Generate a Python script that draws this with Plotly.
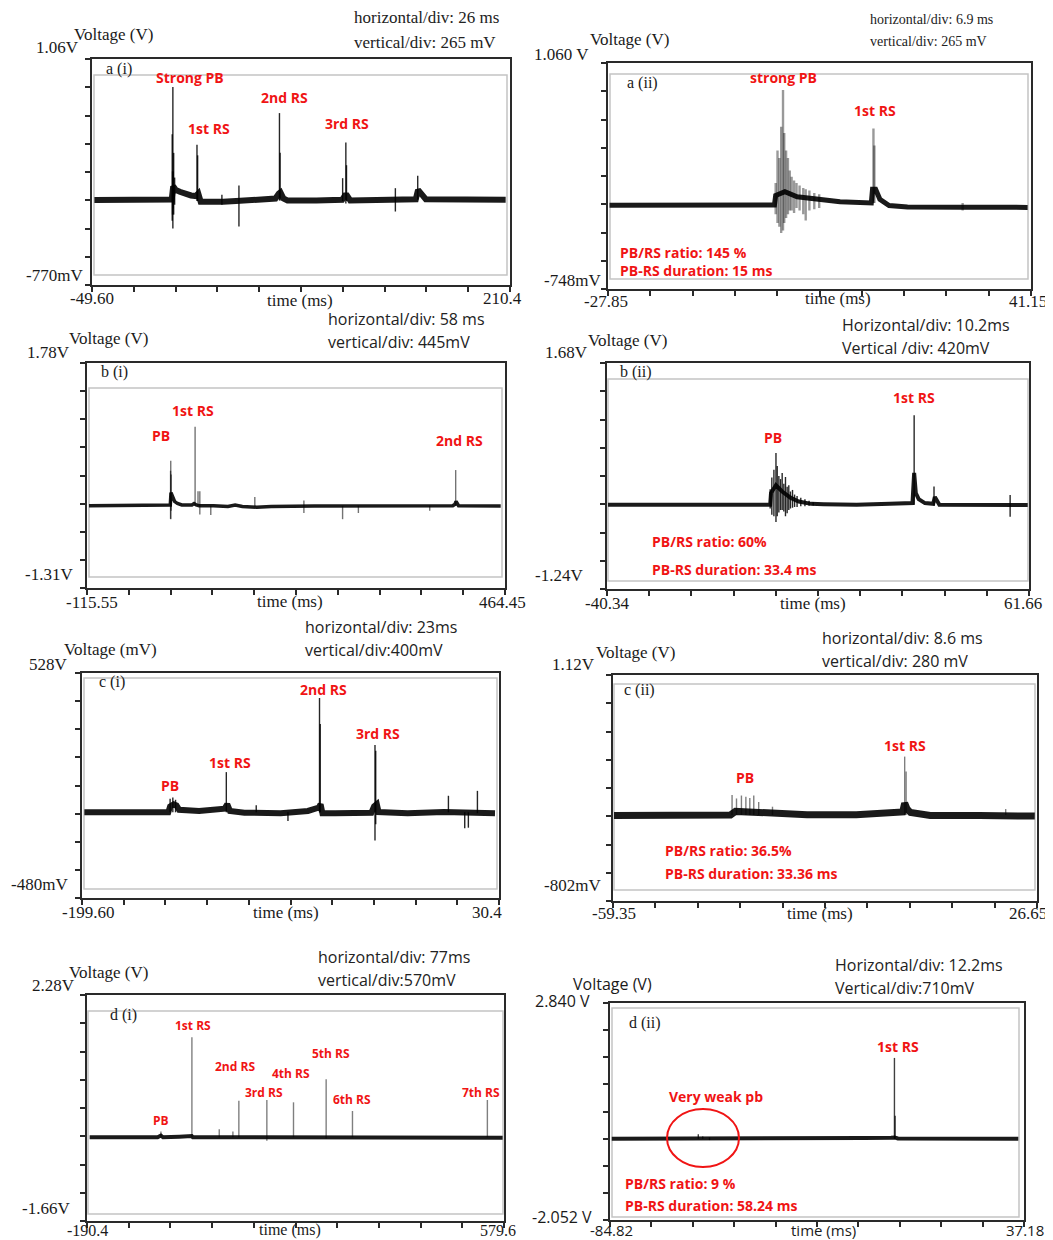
import plotly.graph_objects as go

W, H = 1053, 1240
OFF = 8  # page margin of the browser body (px)

# ---------------- data (time in ms, voltage in V) ----------------
# a(i)
ai_xrange = [-49.60, 210.4]
ai_yrange = [-0.770, 1.06]
ai_t = [-48.1, -1.0, 0.0, 0.9, 2.5, 5.0, 8.0, 12.0, 15.0, 16.5, 18.0, 24.0, 32.0, 40.0, 48.0, 64.5, 66.6, 67.6,
        69.5, 72.0, 90.0, 106.0, 107.8, 109.0, 111.0, 138.0, 151.8, 153.2, 155.5, 158.0, 207.7]
ai_v = [-0.081, -0.081, -0.078, 0.03, 0.0, -0.015, -0.03, -0.045, -0.05, -0.03, -0.095, -0.10, -0.095, -0.09,
        -0.085, -0.07, -0.03, -0.02, -0.07, -0.085, -0.085, -0.08, -0.045, -0.045, -0.085, -0.08, -0.075, 0.0,
        -0.04, -0.075, -0.08]
ai_spk_t = [0.3, 0.5, 0.7, 0.9, 1.2, 1.8, 15.7, 16.1, 31.2, 41.8, 67.0, 67.4, 106.3, 108.3, 108.7, 139.1, 153.0]
ai_spk_lo = [-0.25, -0.20, -0.313, -0.15, -0.2, -0.12, -0.09, -0.09, -0.12, -0.297, -0.085, -0.085, -0.09, -0.11,
             -0.09, -0.175, -0.08]
ai_spk_hi = [0.45, 0.15, 0.833, 0.15, 0.30, 0.10, 0.365, 0.28, -0.04, 0.036, 0.622, 0.30, 0.095, 0.384, 0.2,
             0.014, 0.114]

# a(ii)
aii_xrange = [-27.85, 41.15]
aii_yrange = [-0.748, 1.060]
aii_t = [-27.6, -15.0, -5.0, -0.7, -0.5, 1.0, 3.0, 6.0, 10.0, 15.1, 15.3, 15.8, 16.5, 18.0, 21.0, 30.0, 35.0,
         40.6]
aii_v = [-0.078, -0.08, -0.075, -0.076, 0.0, 0.03, -0.01, -0.03, -0.05, -0.06, 0.05, 0.05, -0.03, -0.08, -0.092,
         -0.093, -0.09, -0.095]
aii_spk_t = [-0.5, -0.2, 0.1, 0.4, 0.7, 0.9, 1.2, 1.5, 1.8, 2.1, 2.5, 2.9, 3.4, 4.0, 4.4, 5.0, 5.8, 6.6, 15.45,
             15.6, 30.0]
aii_spk_lo = [-0.15, -0.22, -0.25, -0.30, -0.28, -0.22, -0.18, -0.15, -0.12, -0.12, -0.14, -0.10, -0.12, -0.15,
              -0.20, -0.12, -0.11, -0.10, -0.06, -0.06, -0.12]
aii_spk_hi = [0.10, 0.36, 0.30, 0.55, 0.844, 0.50, 0.36, 0.30, 0.20, 0.15, 0.12, 0.10, 0.08, 0.06, 0.05, 0.04,
              0.02, 0.01, 0.536, 0.40, -0.06]

# b(i)
bi_xrange = [-115.55, 464.45]
bi_yrange = [-1.31, 1.78]
bi_t = [-112.8, -2.0, 0.0, 1.0, 3.0, 6.0, 10.0, 16.0, 30.0, 33.0, 36.0, 40.0, 60.0, 80.0, 90.0, 100.0, 120.0,
        140.0, 200.0, 300.0, 392.0, 395.0, 396.5, 400.0, 458.5]
bi_v = [-0.18, -0.18, -0.17, 0.0, -0.06, -0.12, -0.15, -0.17, -0.17, -0.15, -0.17, -0.18, -0.18, -0.19, -0.17,
        -0.19, -0.20, -0.19, -0.185, -0.185, -0.18, -0.16, -0.12, -0.18, -0.185]
bi_spk_t = [0.4, 0.65, 1.2, 34.45, 38.5, 41.0, 56.2, 117.3, 185.4, 239.1, 261.0, 360.0, 396.0]
bi_spk_lo = [-0.36, -0.365, -0.25, -0.18, -0.18, -0.30, -0.306, -0.19, -0.28, -0.365, -0.28, -0.25, -0.18]
bi_spk_hi = [0.30, 0.438, 0.25, 0.904, 0.02, 0.02, -0.18, -0.06, -0.11, -0.18, -0.18, -0.18, 0.31]

# b(ii)
bii_xrange = [-40.34, 61.66]
bii_yrange = [-1.24, 1.68]
bii_t = [-40.1, -10.0, -0.9, -0.7, 0.5, 2.0, 4.0, 6.0, 9.0, 12.0, 20.0, 28.0, 33.5, 33.9, 34.3, 35.0, 36.5,
         38.5, 38.9, 40.0, 55.0, 61.35]
bii_v = [-0.153, -0.153, -0.153, 0.0, 0.10, 0.02, -0.06, -0.11, -0.14, -0.145, -0.15, -0.14, -0.13, 0.26,
         0.0, -0.08, -0.13, -0.14, -0.05, -0.15, -0.15, -0.155]
bii_spk_t = [-0.9, -0.5, 0.0, 0.5, 0.8, 1.2, 1.6, 2.0, 2.4, 2.8, 3.2, 3.6, 4.0, 4.5, 5.0, 5.6, 6.5, 7.5, 8.5, 9.5,
             33.9, 38.7, 57.1]
bii_spk_lo = [-0.20, -0.28, -0.30, -0.374, -0.30, -0.25, -0.22, -0.22, -0.24, -0.30, -0.26, -0.22, -0.20, -0.19,
              -0.18, -0.18, -0.17, -0.17, -0.165, -0.16, -0.15, -0.16, -0.305]
bii_spk_hi = [0.05, 0.20, 0.30, 0.517, 0.35, 0.22, 0.18, 0.26, 0.12, 0.207, 0.08, 0.10, 0.02, 0.04, -0.02, -0.04,
              -0.06, -0.08, -0.10, -0.12, 1.006, 0.083, -0.025]

# c(i)
ci_xrange = [-199.60, 30.4]
ci_yrange = [-0.480, 0.528]
ci_t = [-198.3, -152.0, -151.0, -149.0, -147.5, -146.0, -135.0, -121.0, -119.5, -118.0, -110.0, -90.0, -75.0,
        -69.0, -68.0, -67.0, -60.0, -40.0, -38.5, -37.0, -36.0, -20.0, 0.0, 15.0, 28.2]
ci_v = [-0.096, -0.096, -0.07, -0.06, -0.065, -0.085, -0.09, -0.08, -0.06, -0.09, -0.098, -0.10, -0.09, -0.075,
        -0.06, -0.10, -0.10, -0.098, -0.07, -0.06, -0.095, -0.10, -0.095, -0.10, -0.10]
ci_spk_t = [-151.0, -149.5, -148.0, -120.0, -103.5, -86.0, -68.6, -68.2, -38.0, -37.6, 2.5, 11.5, 13.5, 18.5]
ci_spk_lo = [-0.096, -0.096, -0.096, -0.096, -0.096, -0.135, -0.096, -0.096, -0.222, -0.15, -0.096, -0.168,
             -0.165, -0.10]
ci_spk_hi = [-0.035, -0.030, -0.040, 0.084, -0.065, -0.096, 0.416, 0.30, 0.205, 0.18, -0.022, -0.096, -0.096, 0.0]

# c(ii)
cii_xrange = [-59.35, 26.65]
cii_yrange = [-0.802, 1.12]
cii_t = [-59.15, -40.0, -35.5, -34.5, -31.0, -28.0, -26.0, -20.0, -10.0, -3.0, -0.6, -0.19, 0.3, 1.0, 2.5, 5.0,
         15.0, 26.2]
cii_v = [-0.075, -0.072, -0.07, -0.04, -0.045, -0.05, -0.06, -0.068, -0.068, -0.055, -0.045, 0.03, -0.02, -0.05,
         -0.065, -0.075, -0.075, -0.08]
cii_spk_t = [-35.2, -34.3, -33.3, -32.4, -31.6, -30.8, -29.8, -27.0, -0.19, 0.1, 20.3]
cii_spk_lo = [-0.07, -0.07, -0.07, -0.07, -0.07, -0.07, -0.07, -0.07, -0.07, -0.07, -0.07]
cii_spk_hi = [0.10, 0.07, 0.095, 0.085, 0.075, 0.095, 0.04, 0.0, 0.426, 0.30, -0.02]

# d(i)
di_xrange = [-190.4, 579.6]
di_yrange = [-1.66, 2.28]
di_t = [-185.5, -60.0, -54.0, -50.0, -20.0, 0.0, 3.0, 5.0, 100.0, 200.0, 300.0, 400.0, 577.1]
di_v = [-0.20, -0.20, -0.17, -0.20, -0.19, -0.18, -0.18, -0.20, -0.20, -0.20, -0.195, -0.20, -0.21]
di_spk_t = [-53.9, 53.8, 79.0, 3.3, 90.0, 141.7, 190.9, 251.2, 299.8, 548.9]
di_spk_lo = [-0.20, -0.20, -0.20, -0.20, -0.20, -0.26, -0.20, -0.22, -0.20, -0.20]
di_spk_hi = [-0.10, -0.06, -0.10, 1.542, 0.438, 0.45, 0.409, 0.81, 0.258, 0.45]

# d(ii)
dii_xrange = [-84.82, 37.18]
dii_yrange = [-2.052, 2.84]
dii_t = [-84.3, -60.0, -58.8, -55.0, -40.0, -20.0, -10.0, -2.0, -1.0, 0.0, 10.0, 35.5]
dii_v = [-0.22, -0.22, -0.20, -0.22, -0.22, -0.215, -0.205, -0.195, -0.19, -0.215, -0.22, -0.22]
dii_spk_t = [-58.8, -57.5, -55.5, -1.0, -0.8]
dii_spk_lo = [-0.22, -0.22, -0.25, -0.22, -0.22]
dii_spk_hi = [-0.12, -0.17, -0.19, 1.602, 0.3]

# ---------------- layout (pixel geometry) ----------------
SERIF = "Liberation Serif, Times New Roman, serif"
SANS = "Open Sans, Liberation Sans, sans-serif"
RED = "#f01414"
INK = "#1a1a1a"
SS = 17   # serif label size
NS = 16   # sans label size

panels = [
    dict(name="a (i)", t=ai_t, v=ai_v, st=ai_spk_t, slo=ai_spk_lo, shi=ai_spk_hi, xr=ai_xrange, yr=ai_yrange,
         frame=(92, 59, 510, 285), inner=(94, 75, 507, 275), band=6, spk="rgba(0,0,0,0.85)", spw=1.4,
         vlab=("Voltage (V)", 72, 35, SERIF), top=("1.06V", 81, 48, "right", SERIF),
         bot=("-770mV", 85, 276, "right", SERIF), x0=("-49.60", 92, 299), x1=("210.4", 502, 299),
         tl=(300, 300), tfont=SERIF, tsize=SS,
         div=("horizontal/div: 26 ms", "vertical/div: 265 mV", 352, 18, 42, SERIF, 17),
         tag=(104, 69),
         red=[("Strong PB", 190, 77), ("1st RS", 209, 128), ("2nd RS", 284, 97), ("3rd RS", 347, 124)],
         redl=[], rsize=14),
    dict(name="a (ii)", t=aii_t, v=aii_v, st=aii_spk_t, slo=aii_spk_lo, shi=aii_spk_hi, xr=aii_xrange,
         yr=aii_yrange, frame=(608, 63, 1031, 289), inner=(610, 74, 1028, 279), band=5, spk="rgba(0,0,0,0.4)",
         spw=2.4,
         vlab=("Voltage (V)", 588, 40, SERIF), top=("1.060 V", 532, 54, "left", SERIF),
         bot=("-748mV", 603, 280, "right", SERIF), x0=("-27.85", 606, 302), x1=("41.15", 1028, 302),
         tl=(838, 298), tfont=SERIF, tsize=SS,
         div=("horizontal/div: 6.9 ms", "vertical/div: 265 mV", 868, 19, 41, SERIF, 14),
         tag=(625, 83),
         red=[("strong PB", 783, 78), ("1st RS", 875, 111)],
         redl=[("PB/RS ratio: 145 %<br>PB-RS duration: 15 ms", 618, 261)], rsize=14),
    dict(name="b (i)", t=bi_t, v=bi_v, st=bi_spk_t, slo=bi_spk_lo, shi=bi_spk_hi, xr=bi_xrange, yr=bi_yrange,
         frame=(87, 363, 505, 588), inner=(89, 388, 502, 577), band=3.5, spk="rgba(0,0,0,0.55)", spw=1.4,
         vlab=("Voltage (V)", 67, 339, SERIF), top=("1.78V", 72, 353, "right", SERIF),
         bot=("-1.31V", 75, 574, "right", SERIF), x0=("-115.55", 92, 602), x1=("464.45", 502, 602),
         tl=(290, 601), tfont=SERIF, tsize=SS,
         div=("horizontal/div: 58 ms", "vertical/div: 445mV", 326, 319, 342, SANS, NS),
         tag=(99, 372),
         red=[("PB", 161, 435), ("1st RS", 193, 410), ("2nd RS", 459, 441)], redl=[], rsize=14),
    dict(name="b (ii)", t=bii_t, v=bii_v, st=bii_spk_t, slo=bii_spk_lo, shi=bii_spk_hi, xr=bii_xrange,
         yr=bii_yrange, frame=(607, 363, 1029, 589), inner=(608, 379, 1028, 581), band=4, spk="rgba(0,0,0,0.85)",
         spw=1.4,
         vlab=("Voltage (V)", 586, 340, SERIF), top=("1.68V", 590, 353, "right", SERIF),
         bot=("-1.24V", 585, 575, "right", SERIF), x0=("-40.34", 607, 603), x1=("61.66", 1023, 603),
         tl=(813, 603), tfont=SERIF, tsize=SS,
         div=("Horizontal/div: 10.2ms", "Vertical /div: 420mV", 840, 325, 348, SANS, NS),
         tag=(618, 372),
         red=[("PB", 773, 437), ("1st RS", 914, 397)],
         redl=[("PB/RS ratio: 60%", 650, 541), ("PB-RS duration: 33.4 ms", 650, 569)], rsize=14),
    dict(name="c (i)", t=ci_t, v=ci_v, st=ci_spk_t, slo=ci_spk_lo, shi=ci_spk_hi, xr=ci_xrange, yr=ci_yrange,
         frame=(82, 673, 499, 898), inner=(84, 678, 497, 889), band=6, spk="rgba(0,0,0,0.85)", spw=1.4,
         vlab=("Voltage (mV)", 62, 649, SERIF), top=("528V", 70, 665, "right", SERIF),
         bot=("-480mV", 70, 884, "right", SERIF), x0=("-199.60", 88, 912), x1=("30.4", 487, 912),
         tl=(286, 912), tfont=SERIF, tsize=SS,
         div=("horizontal/div: 23ms", "vertical/div:400mV", 303, 627, 650, SANS, NS),
         tag=(97, 682),
         red=[("PB", 170, 785), ("1st RS", 230, 762), ("2nd RS", 323, 689), ("3rd RS", 378, 733)], redl=[],
         rsize=14),
    dict(name="c (ii)", t=cii_t, v=cii_v, st=cii_spk_t, slo=cii_spk_lo, shi=cii_spk_hi, xr=cii_xrange,
         yr=cii_yrange, frame=(613, 675, 1037, 901), inner=(614, 684, 1035, 890), band=7, spk="rgba(0,0,0,0.5)",
         spw=1.4,
         vlab=("Voltage (V)", 594, 652, SERIF), top=("1.12V", 597, 665, "right", SERIF),
         bot=("-802mV", 603, 886, "right", SERIF), x0=("-59.35", 614, 914), x1=("26.65", 1028, 914),
         tl=(820, 914), tfont=SERIF, tsize=SS,
         div=("horizontal/div: 8.6 ms", "vertical/div: 280 mV", 820, 638, 661, SANS, NS),
         tag=(622, 690),
         red=[("PB", 745, 777), ("1st RS", 905, 745)],
         redl=[("PB/RS ratio: 36.5%", 663, 850), ("PB-RS duration: 33.36 ms", 663, 873)], rsize=14),
    dict(name="d (i)", t=di_t, v=di_v, st=di_spk_t, slo=di_spk_lo, shi=di_spk_hi, xr=di_xrange, yr=di_yrange,
         frame=(87, 995, 504, 1221), inner=(88, 1011, 503, 1214), band=4, spk="rgba(0,0,0,0.5)", spw=1.4,
         vlab=("Voltage (V)", 67, 972, SERIF), top=("2.28V", 77, 985, "right", SERIF),
         bot=("-1.66V", 72, 1208, "right", SERIF), x0=("-190.4", 87, 1230), x1=("579.6", 498, 1230),
         tl=(290, 1230), tfont=SERIF, tsize=16,
         div=("horizontal/div: 77ms", "vertical/div:570mV", 316, 957, 980, SANS, NS),
         tag=(108, 1015),
         red=[("PB", 161, 1120), ("1st RS", 193, 1025), ("2nd RS", 235, 1066), ("3rd RS", 264, 1092),
              ("4th RS", 291, 1073), ("5th RS", 331, 1053), ("6th RS", 352, 1099), ("7th RS", 481, 1092)],
         redl=[], rsize=12),
    dict(name="d (ii)", t=dii_t, v=dii_v, st=dii_spk_t, slo=dii_spk_lo, shi=dii_spk_hi, xr=dii_xrange,
         yr=dii_yrange, frame=(610, 1003, 1024, 1220), inner=(612, 1008, 1019, 1217), band=4,
         spk="rgba(0,0,0,0.75)", spw=1.4,
         vlab=("Voltage (V)", 571, 984, SANS), top=("2.840 V", 533, 1001, "left", SANS),
         bot=("-2.052 V", 530, 1217, "left", SANS), x0=("-84.82", 611, 1230), x1=("37.18", 1025, 1230),
         tl=(823, 1230), tfont=SANS, tsize=15,
         div=("Horizontal/div: 12.2ms", "Vertical/div:710mV", 833, 965, 988, SANS, NS),
         tag=(627, 1023),
         red=[("1st RS", 898, 1046), ("Very weak pb", 716, 1096)],
         redl=[("PB/RS ratio: 9 %", 623, 1183), ("PB-RS duration: 58.24 ms", 623, 1205)], rsize=14),
]


def px(x):
    return (x - OFF) / W


def py(y):
    return 1 - (y - OFF) / H


fig = go.Figure()
annotations = []
shapes = []
layout_axes = {}


def ann(text, x, y, xanchor="left", font=SERIF, size=16, color=INK, bold=False):
    annotations.append(dict(text=(f"<b>{text}</b>" if bold else text), x=px(x), y=py(y), xref="paper",
                            yref="paper", xanchor=xanchor, yanchor="middle", showarrow=False, align="left",
                            font=dict(family=font, size=size, color=color)))


for i, p in enumerate(panels, start=1):
    xa = "x" if i == 1 else f"x{i}"
    ya = "y" if i == 1 else f"y{i}"
    xkey = "xaxis" if i == 1 else f"xaxis{i}"
    ykey = "yaxis" if i == 1 else f"yaxis{i}"
    fx0, fy0, fx1, fy1 = p["frame"]
    x_lo, x_hi = p["xr"]
    y_lo, y_hi = p["yr"]
    xt = [x_lo + k * (x_hi - x_lo) / 10 for k in range(11)]
    yt = [y_lo + k * (y_hi - y_lo) / 8 for k in range(9)]
    common = dict(showgrid=False, zeroline=False, showline=True, mirror=True, linecolor="#2a2a2a", linewidth=2,
                  ticks="outside", ticklen=5, tickwidth=1.6, tickcolor="#2a2a2a", showticklabels=False,
                  fixedrange=True)
    layout_axes[xkey] = dict(domain=[px(fx0), px(fx1)], range=[x_lo, x_hi], tickvals=xt, anchor=ya, **common)
    layout_axes[ykey] = dict(domain=[py(fy1), py(fy0)], range=[y_lo, y_hi], tickvals=yt, anchor=xa, **common)

    # inner light rectangle
    ix0, iy0, ix1, iy1 = p["inner"]
    shapes.append(dict(type="rect", xref="paper", yref="paper", x0=px(ix0), x1=px(ix1), y0=py(iy1), y1=py(iy0),
                       line=dict(color="#c4c4c4", width=1.5), layer="below"))

    # main trace (thick noisy band)
    fig.add_trace(go.Scatter(x=p["t"], y=p["v"], mode="lines", xaxis=xa, yaxis=ya,
                             line=dict(color=INK, width=p["band"]), hoverinfo="skip", showlegend=False))
    # spikes
    sx, sy = [], []
    for t, lo, hi in zip(p["st"], p["slo"], p["shi"]):
        sx += [t, t, None]
        sy += [lo, hi, None]
    fig.add_trace(go.Scatter(x=sx, y=sy, mode="lines", xaxis=xa, yaxis=ya,
                             line=dict(color=p["spk"], width=p["spw"]), hoverinfo="skip", showlegend=False))

    t, x, y, f = p["vlab"]
    ann(t, x, y, "left", f, SS if f == SERIF else NS)
    t, x, y, a, f = p["top"]
    ann(t, x, y, a, f, SS if f == SERIF else NS)
    t, x, y, a, f = p["bot"]
    ann(t, x, y, a, f, SS if f == SERIF else NS)
    t, x, y = p["x0"]
    ann(t, x, y, "center", p["tfont"], p["tsize"])
    t, x, y = p["x1"]
    ann(t, x, y, "center", p["tfont"], p["tsize"])
    ann("time (ms)", p["tl"][0], p["tl"][1], "center", p["tfont"], p["tsize"])
    l1, l2, dx, dy1, dy2, dfont, dsize = p["div"]
    ann(l1, dx, dy1, "left", dfont, dsize, "#222")
    ann(l2, dx, dy2, "left", dfont, dsize, "#222")
    ann(p["name"], p["tag"][0], p["tag"][1], "left", SERIF, 16)
    for t, x, y in p["red"]:
        ann(t, x, y, "center", SANS, p["rsize"], RED, True)
    for t, x, y in p["redl"]:
        ann(t, x, y, "left", SANS, p["rsize"], RED, True)

# red circle in d(ii)
shapes.append(dict(type="circle", xref="paper", yref="paper", x0=px(667), x1=px(739), y0=py(1167), y1=py(1109),
                   line=dict(color=RED, width=2)))

fig.update_layout(width=W, height=H, margin=dict(l=0, r=0, t=0, b=0), paper_bgcolor="white",
                  plot_bgcolor="white", annotations=annotations, shapes=shapes, showlegend=False,
                  **layout_axes)

fig.write_html("out.html")
